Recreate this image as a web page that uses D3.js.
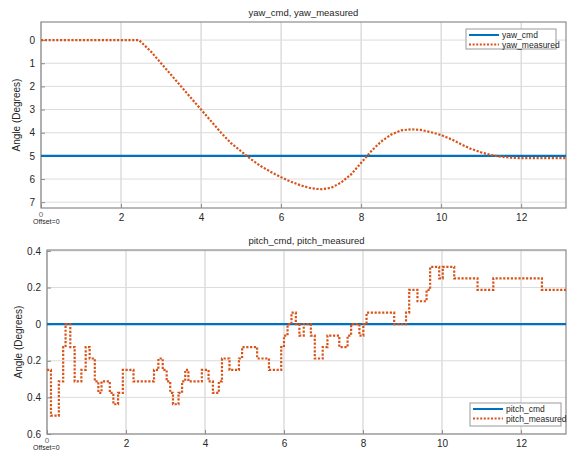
<!DOCTYPE html>
<html>
<head>
<meta charset="utf-8">
<script src="https://cdn.jsdelivr.net/npm/d3@7"></script>
<style>
  body { margin: 0; background: #fff; }
  text { font-family: "Liberation Sans", Arial, sans-serif; fill: #262626; }
</style>
</head>
<body>
<script>
// yaw data
const yawT = [0, 2.45, 2.75, 3.0, 3.25, 3.5, 3.75, 4.0, 4.25, 4.5, 4.75, 5.0, 5.25, 5.5, 5.75, 6.0, 6.25, 6.5, 6.75, 7.0, 7.25, 7.5, 7.75, 8.0, 8.25, 8.5, 8.75, 9.0, 9.25, 9.5, 9.75, 10.0, 10.25, 10.5, 10.75, 11.0, 11.25, 11.5, 11.75, 12.0, 12.5, 13.12];
const yawMeasured = [0, 0, 0.5, 1.0, 1.5, 2.0, 2.5, 3.0, 3.5, 4.0, 4.45, 4.8, 5.15, 5.45, 5.7, 5.92, 6.12, 6.28, 6.4, 6.44, 6.38, 6.15, 5.8, 5.3, 4.8, 4.38, 4.08, 3.9, 3.85, 3.88, 3.98, 4.1, 4.28, 4.5, 4.7, 4.85, 4.96, 5.04, 5.08, 5.1, 5.1, 5.1];
const yawCmd = 5;

// pitch data: step start times and levels
const pitchT = [0, 0.1, 0.3, 0.41, 0.47, 0.59, 0.7, 0.87, 0.98, 1.08, 1.21, 1.3, 1.38, 1.59, 1.68, 1.8, 1.92, 2.19, 2.71, 2.82, 2.93, 3.03, 3.12, 3.19, 3.33, 3.42, 3.5, 3.58, 3.92, 4.09, 4.2, 4.35, 4.43, 4.62, 4.86, 4.94, 5.32, 5.62, 5.93, 6.0, 6.09, 6.19, 6.3, 6.39, 6.5, 6.68, 6.78, 6.98, 7.1, 7.4, 7.61, 7.7, 7.91, 8.01, 8.09, 8.79, 9.09, 9.17, 9.38, 9.61, 9.7, 9.93, 10.02, 10.31, 10.9, 11.3, 12.53, 13.14];
const pitchMeasured = [0.25, 0.5, 0.3125, 0.125, 0, 0.125, 0.3125, 0.25, 0.125, 0.1875, 0.3125, 0.375, 0.3125, 0.375, 0.4375, 0.375, 0.25, 0.3125, 0.25, 0.1875, 0.25, 0.3125, 0.375, 0.4375, 0.375, 0.3125, 0.25, 0.3125, 0.25, 0.3125, 0.375, 0.3125, 0.1875, 0.25, 0.1875, 0.125, 0.1875, 0.25, 0.125, 0.0625, 0, -0.0625, 0, 0.0625, 0, 0.0625, 0.1875, 0.125, 0.0625, 0.125, 0.0625, 0, 0.0625, 0, -0.0625, 0, -0.0625, -0.1875, -0.125, -0.1875, -0.3125, -0.25, -0.3125, -0.25, -0.1875, -0.25, -0.1875, -0.1875];
const pitchCmd = 0;

const xTicks = [0, 2, 4, 6, 8, 10, 12];
const yawTicks = [0, 1, 2, 3, 4, 5, 6, 7];
const pitchTicks = [-0.4, -0.2, 0, 0.2, 0.4, 0.6];

const blue = "#0072BD", orange = "#D95319";

const svg = d3.select("body").append("svg")
    .attr("width", 568)
    .attr("height", 450);

function panel(opt) {
    const x = d3.scaleLinear().domain(opt.xDomain).range([opt.left, opt.right]);
    const y = d3.scaleLinear().domain(opt.yDomain).range([opt.top, opt.bottom]);
    const g = svg.append("g");

    // grid
    g.selectAll(".gx").data(xTicks).enter().append("line")
        .attr("x1", d => x(d)).attr("x2", d => x(d))
        .attr("y1", opt.top).attr("y2", opt.bottom)
        .attr("stroke", "#d4d4d4").attr("stroke-width", 1.2);
    g.selectAll(".gy").data(opt.yTicks).enter().append("line")
        .attr("x1", opt.left).attr("x2", opt.right)
        .attr("y1", d => y(d)).attr("y2", d => y(d))
        .attr("stroke", "#dcdcdc").attr("stroke-width", 1);

    // axes (labels only, ticks inward)
    const ax = g.append("g").attr("transform", `translate(0,${opt.bottom})`)
        .call(d3.axisBottom(x).tickValues(xTicks).tickSize(-4).tickPadding(6)
            .tickFormat(d => d === 0 ? "" : d));
    const ay = g.append("g").attr("transform", `translate(${opt.left},0)`)
        .call(d3.axisLeft(y).tickValues(opt.yTicks).tickSize(-4).tickPadding(6)
            .tickFormat(opt.yFormat));
    [ax, ay].forEach(a => {
        a.select(".domain").remove();
        a.selectAll("line").attr("stroke", "#8c8c8c");
        a.selectAll("text").attr("font-size", 10).style("fill", "#262626");
    });

    // box
    g.append("rect")
        .attr("x", opt.left).attr("y", opt.top)
        .attr("width", opt.right - opt.left).attr("height", opt.bottom - opt.top)
        .attr("fill", "none").attr("stroke", "#8c8c8c").attr("stroke-width", 1.2);

    // lines
    g.append("line")
        .attr("x1", opt.left).attr("x2", opt.right)
        .attr("y1", y(opt.cmd)).attr("y2", y(opt.cmd))
        .attr("stroke", blue).attr("stroke-width", 2.2);
    const line = d3.line().x(d => x(d[0])).y(d => y(d[1])).curve(opt.curve);
    g.append("path")
        .datum(opt.t.map((t, i) => [t, opt.v[i]]))
        .attr("d", line)
        .attr("fill", "none")
        .attr("stroke", orange)
        .attr("stroke-width", 2.2)
        .attr("stroke-dasharray", "2.2,1.6");

    // titles
    g.append("text").attr("x", (opt.left + opt.right) / 2).attr("y", opt.top - 6)
        .attr("text-anchor", "middle").attr("font-size", 9.5).text(opt.title);
    g.append("text")
        .attr("transform", `translate(${opt.yLabelX},${(opt.top + opt.bottom) / 2}) rotate(-90)`)
        .attr("text-anchor", "middle").attr("font-size", 10).text("Angle (Degrees)");
    // x origin label, then the "Offset=0" note just under it
    g.append("text").attr("x", opt.left).attr("y", opt.bottom + 9)
        .attr("text-anchor", "middle").attr("font-size", 8).attr("opacity", 0.7).text("0");
    g.append("text").attr("x", 33).attr("y", opt.bottom + 16)
        .attr("font-size", 7).text("Offset=0");

    // legend
    const L = opt.legend;
    g.append("rect").attr("x", L.x).attr("y", L.y).attr("width", L.w).attr("height", L.h)
        .attr("fill", "#fff").attr("stroke", "#9a9a9a").attr("stroke-width", 1);
    L.names.forEach((n, i) => {
        const yy = L.y + 6 + i * 9.5;
        g.append("line").attr("x1", L.x + 3).attr("x2", L.x + 33)
            .attr("y1", yy).attr("y2", yy)
            .attr("stroke", i === 0 ? blue : orange)
            .attr("stroke-width", i === 0 ? 2 : 1.8)
            .attr("stroke-dasharray", i === 0 ? null : "2,1.6");
        g.append("text").attr("x", L.x + 36).attr("y", yy + 3)
            .attr("font-size", 8.5).text(n);
    });
}

panel({
    left: 41, right: 566, top: 22, bottom: 208,
    xDomain: [0, 13.12], yDomain: [-0.78, 7.25],
    yTicks: yawTicks, yFormat: d => d,
    t: yawT, v: yawMeasured, cmd: yawCmd, curve: d3.curveLinear,
    title: "yaw_cmd, yaw_measured", yLabelX: 20,
    legend: { x: 466, y: 29, w: 90, h: 20, names: ["yaw_cmd", "yaw_measured"] }
});

panel({
    left: 47, right: 566, top: 250, bottom: 434,
    xDomain: [0, 13.14], yDomain: [-0.405, 0.6],
    yTicks: pitchTicks, yFormat: d => String(Math.round(Math.abs(d) * 10) / 10),
    t: pitchT, v: pitchMeasured, cmd: pitchCmd, curve: d3.curveStepAfter,
    title: "pitch_cmd, pitch_measured", yLabelX: 22,
    legend: { x: 470, y: 403, w: 91, h: 23, names: ["pitch_cmd", "pitch_measured"] }
});
</script>
</body>
</html>
